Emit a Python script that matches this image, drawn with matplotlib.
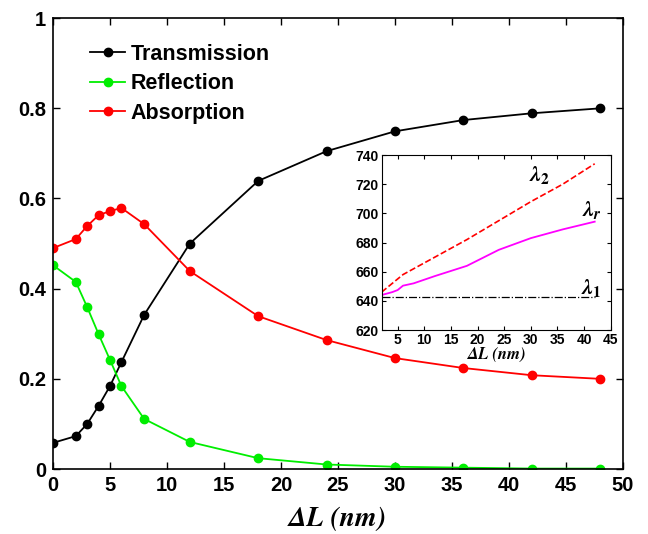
import matplotlib
matplotlib.use("Agg")
import matplotlib.pyplot as plt
import numpy as np

plt.rcParams['font.family'] = ['Liberation Sans', 'DejaVu Sans']
plt.rcParams['font.weight'] = 'bold'
plt.rcParams['mathtext.fontset'] = 'custom'
plt.rcParams['mathtext.rm'] = 'STIXGeneral:bold'
plt.rcParams['mathtext.it'] = 'STIXGeneral:italic:bold'
plt.rcParams['mathtext.bf'] = 'STIXGeneral:bold'

# main data
dL = [0, 2, 3, 4, 5, 6, 8, 12, 18, 24, 30, 36, 42, 48]
trans = [0.058, 0.073, 0.100, 0.140, 0.184, 0.237, 0.342, 0.500, 0.639, 0.705, 0.749, 0.774, 0.789, 0.800]
refl = [0.452, 0.415, 0.359, 0.299, 0.242, 0.184, 0.111, 0.060, 0.024, 0.010, 0.005, 0.003, 0.001, 0.001]
absorp = [0.490, 0.510, 0.539, 0.563, 0.572, 0.579, 0.543, 0.439, 0.339, 0.286, 0.246, 0.224, 0.208, 0.200]

# inset data
dL_in = [2, 4, 5, 6, 8, 12, 18, 24, 30, 36, 42]
lam2 = [646, 652, 655, 658, 662, 670, 682, 695, 708, 720, 734]
lamr = [644, 646, 647.4, 650.4, 652, 657, 664, 675, 683, 689, 694.3]
lam1 = [642.4] * len(dL_in)

fig = plt.figure(figsize=(6.48, 5.34), dpi=100)
ax = fig.add_axes([0.0818, 0.1217, 0.8796, 0.8443])
ax.plot(dL, trans, '-o', color='black', lw=1.3, ms=6, label='Transmission')
ax.plot(dL, refl, '-o', color='#00ee00', lw=1.3, ms=6, label='Reflection')
ax.plot(dL, absorp, '-o', color='red', lw=1.3, ms=6, label='Absorption')
ax.set_xlim(0, 50)
ax.set_ylim(0, 1)
ax.set_xticks(np.arange(0, 51, 5))
ax.set_yticks([0, 0.2, 0.4, 0.6, 0.8, 1])
ax.set_yticklabels(['0', '0.2', '0.4', '0.6', '0.8', '1'])
ax.tick_params(direction='in', top=True, right=True, labelsize=14.5, length=5, width=1, pad=5)
for s in ax.spines.values():
    s.set_linewidth(1.2)
ax.set_xlabel('ΔL (nm)', fontfamily='STIXGeneral', fontstyle='italic', fontweight='bold',
              fontsize=20, labelpad=8)
ax.legend(loc='upper left', bbox_to_anchor=(0.043, 0.972), frameon=False, fontsize=15.5,
          handlelength=1.6, handletextpad=0.25, labelspacing=0.4, borderaxespad=0.2)

ins = fig.add_axes([0.589, 0.382, 0.3534, 0.3277])
ins.plot(dL_in, lam2, '--', color='red', lw=1.2)
ins.plot(dL_in, lamr, '-', color='magenta', lw=1.3)
ins.plot(dL_in, lam1, '-.', color='black', lw=0.9)
ins.set_xlim(2, 45)
ins.set_ylim(620, 740)
ins.set_xticks(np.arange(5, 46, 5))
ins.set_yticks(np.arange(620, 741, 20))
ins.tick_params(direction='in', top=True, right=True, labelsize=10, length=3, width=0.8, pad=2)
ins.set_xlabel('ΔL (nm)', fontfamily='STIXGeneral', fontstyle='italic', fontweight='bold',
               fontsize=12, labelpad=0)
ins.text(31.7, 726, r'$\lambda_2$', fontsize=16, ha='center', va='center')
ins.text(41.4, 702, r'$\lambda_r$', fontsize=16, ha='center', va='center')
ins.text(41.4, 648.6, r'$\lambda_1$', fontsize=16, ha='center', va='center')

fig.savefig('out.png', dpi=100)
